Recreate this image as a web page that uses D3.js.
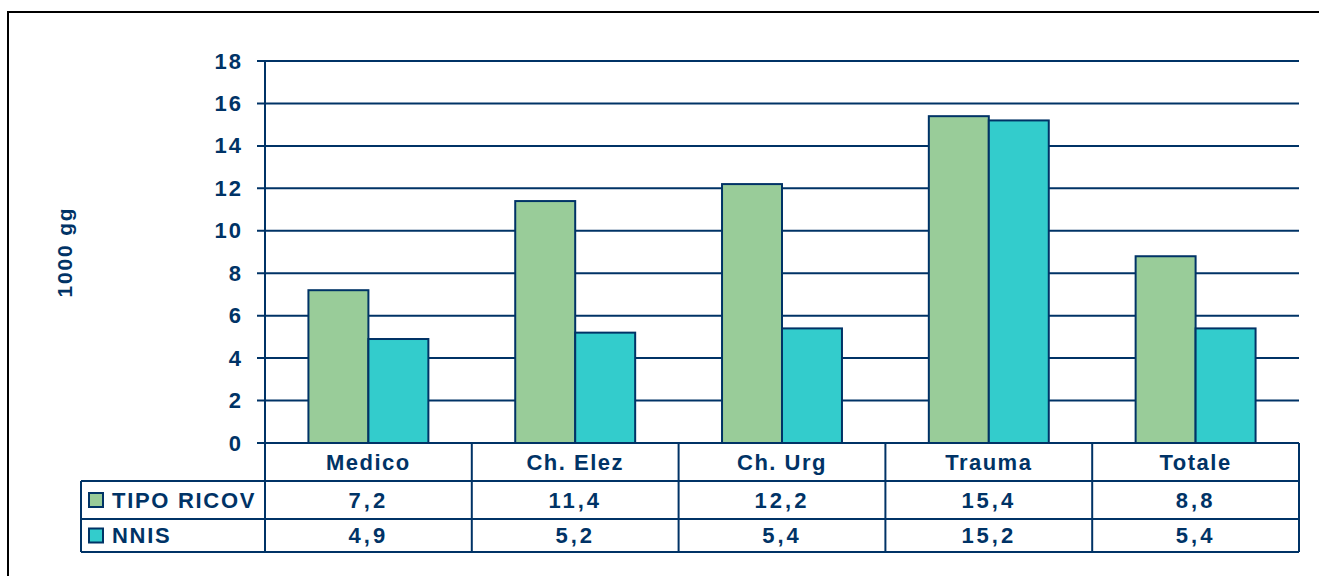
<!DOCTYPE html>
<html>
<head>
<meta charset="utf-8">
<script src="https://cdn.jsdelivr.net/npm/d3@7"></script>
<style>
  body { margin: 0; background: white; }
  text { font-family: "Liberation Sans", Arial, sans-serif; font-weight: bold; fill: #003366; }
</style>
</head>
<body>
<div id="grafico"></div>
<script>
var categorie = ["Medico", "Ch. Elez", "Ch. Urg", "Trauma", "Totale"];
var serie = ["TIPO RICOV", "NNIS"];
var tipoRicov = [7.2, 11.4, 12.2, 15.4, 8.8];
var nnis = [4.9, 5.2, 5.4, 15.2, 5.4];
var yTicks = [0, 2, 4, 6, 8, 10, 12, 14, 16, 18];

var colori = { "TIPO RICOV": "#99cc99", "NNIS": "#33cccc" };
var blu = "#003366";

var width = 1319, height = 576;
var plotLeft = 265, plotRight = 1299, plotTop = 61, plotBottom = 443;
var rowH = [38, 38, 33];

var svg = d3.select("#grafico")
  .append("svg")
  .attr("width", width)
  .attr("height", height);

// bordo esterno
svg.append("rect")
  .attr("x", 8).attr("y", 12)
  .attr("width", 1400).attr("height", 700)
  .attr("fill", "none")
  .attr("stroke", "#000")
  .attr("stroke-width", 2);

var x = d3.scaleBand()
  .domain(categorie)
  .range([plotLeft, plotRight]);

var x1 = d3.scaleBand()
  .domain(serie)
  .range([x.bandwidth() * 0.21, x.bandwidth() * 0.79]);

var y = d3.scaleLinear()
  .domain([0, 18])
  .range([plotBottom, plotTop]);

var fmt = d3.formatLocale({ decimal: ",", thousands: ".", grouping: [3], currency: ["", "€"] }).format(".1f");

// griglia orizzontale
svg.append("g")
  .selectAll("line")
  .data(yTicks)
  .enter().append("line")
  .attr("x1", plotLeft - 8)
  .attr("x2", plotRight)
  .attr("y1", d => y(d))
  .attr("y2", d => y(d))
  .attr("stroke", blu)
  .attr("stroke-width", 2);

// asse y
var yAxis = svg.append("g")
  .attr("transform", "translate(" + plotLeft + ",0)")
  .call(d3.axisLeft(y).tickValues(yTicks).tickSize(0).tickPadding(22));
yAxis.select(".domain").remove();
yAxis.selectAll("text")
  .style("font-family", "Liberation Sans, Arial, sans-serif")
  .style("font-size", "22px")
  .style("font-weight", "bold")
  .style("letter-spacing", "2px")
  .attr("fill", blu);

svg.append("text")
  .attr("transform", "translate(72," + ((plotTop + plotBottom) / 2) + ") rotate(-90)")
  .attr("text-anchor", "middle")
  .style("font-size", "21px")
  .style("letter-spacing", "1.8px")
  .text("1000 gg");

// barre
var dati = categorie.map(function (c, i) {
  return { cat: c, valori: [{ s: "TIPO RICOV", v: tipoRicov[i] }, { s: "NNIS", v: nnis[i] }] };
});

var gruppi = svg.append("g")
  .selectAll("g")
  .data(dati)
  .enter().append("g")
  .attr("transform", d => "translate(" + x(d.cat) + ",0)");

gruppi.selectAll("rect")
  .data(d => d.valori)
  .enter().append("rect")
  .attr("x", d => x1(d.s))
  .attr("width", x1.bandwidth())
  .attr("y", d => y(d.v))
  .attr("height", d => y(0) - y(d.v))
  .attr("fill", d => colori[d.s])
  .attr("stroke", blu)
  .attr("stroke-width", 2);

// tabella dati
var r0 = plotBottom, r1 = r0 + rowH[0], r2 = r1 + rowH[1], r3 = r2 + rowH[2];
var tabLeft = 81;
var tab = svg.append("g");

[r1, r2, r3].forEach(function (ry) {
  tab.append("line")
    .attr("x1", tabLeft).attr("x2", plotRight)
    .attr("y1", ry).attr("y2", ry)
    .attr("stroke", blu).attr("stroke-width", 2);
});

// asse verticale + divisori categorie
tab.append("line")
  .attr("x1", plotLeft).attr("x2", plotLeft)
  .attr("y1", plotTop).attr("y2", r3)
  .attr("stroke", blu).attr("stroke-width", 2);

tab.selectAll(".div")
  .data(categorie)
  .enter().append("line")
  .attr("x1", d => x(d) + x.bandwidth())
  .attr("x2", d => x(d) + x.bandwidth())
  .attr("y1", r0).attr("y2", r3)
  .attr("stroke", blu).attr("stroke-width", 2);

tab.append("line")
  .attr("x1", tabLeft).attr("x2", tabLeft)
  .attr("y1", r1).attr("y2", r3)
  .attr("stroke", blu).attr("stroke-width", 2);

tab.selectAll(".cat")
  .data(categorie)
  .enter().append("text")
  .attr("x", d => x(d) + x.bandwidth() / 2)
  .attr("y", (r0 + r1) / 2)
  .attr("dy", "0.36em")
  .attr("text-anchor", "middle")
  .style("font-size", "22px")
  .style("letter-spacing", "1.5px")
  .text(d => d);

var righe = [
  { nome: "TIPO RICOV", valori: tipoRicov, top: r1, bottom: r2 },
  { nome: "NNIS", valori: nnis, top: r2, bottom: r3 }
];

righe.forEach(function (r) {
  var cy = (r.top + r.bottom) / 2;
  tab.append("rect")
    .attr("x", 89).attr("y", cy - 7)
    .attr("width", 14).attr("height", 14)
    .attr("fill", colori[r.nome])
    .attr("stroke", blu).attr("stroke-width", 2);
  tab.append("text")
    .attr("x", 112).attr("y", cy)
    .attr("dy", "0.36em")
    .style("font-size", "22px")
    .style("letter-spacing", "1.7px")
    .text(r.nome);
  tab.selectAll(null)
    .data(r.valori)
    .enter().append("text")
    .attr("x", (d, i) => x(categorie[i]) + x.bandwidth() / 2)
    .attr("y", cy)
    .attr("dy", "0.36em")
    .attr("text-anchor", "middle")
    .style("font-size", "22px")
    .style("letter-spacing", "3px")
    .text(d => fmt(d));
});
</script>
</body>
</html>
